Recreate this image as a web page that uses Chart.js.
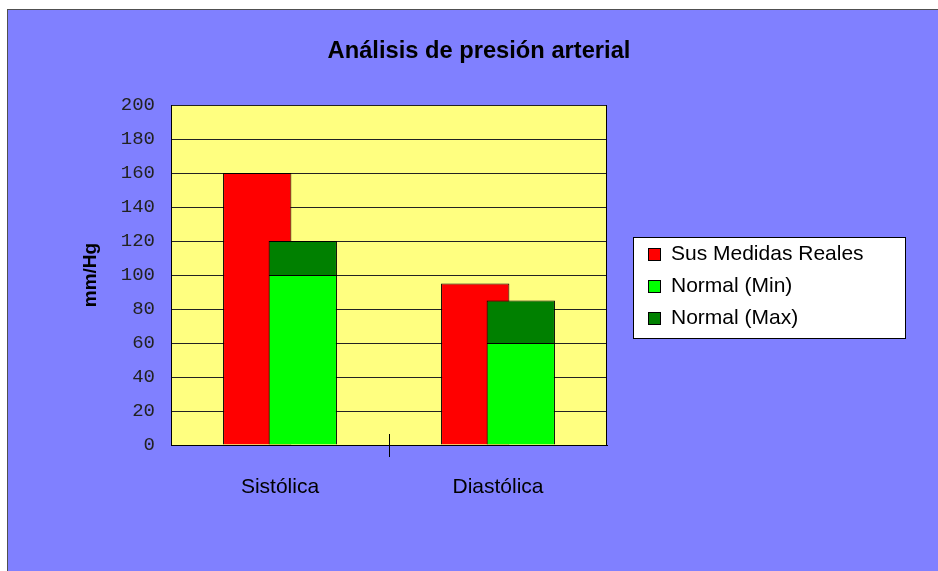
<!DOCTYPE html>
<html>
<head>
<meta charset="utf-8">
<title>Análisis de presión arterial</title>
<script src="https://cdn.jsdelivr.net/npm/chart.js@4"></script>
<style>
  html, body { margin: 0; padding: 0; background: #ffffff; overflow: hidden; }
  #frame {
    position: absolute; left: 7px; top: 9px;
    width: 940px; height: 570px;
    border-left: 1px solid #505050; border-top: 1px solid #505050;
    background: #8080ff;
  }
  canvas { display: block; }
</style>
</head>
<body>
<div id="frame"><canvas id="chart" width="930" height="561"></canvas></div>
<script>
// Blood pressure readings against the normal range (mm/Hg)
const categories = ['Sistólica', 'Diastólica'];
const seriesNames = ['Sus Medidas Reales', 'Normal (Min)', 'Normal (Max)'];
const measured = [160, 95];
const normalMin = [100, 60];
const normalMax = [120, 85];
const yMin = 0;
const yMax = 200;
const yStep = 20;

// the dark green block sits on top of the minimum, up to the maximum
const normalSpan = normalMax.map((v, i) => v - normalMin[i]);

const SANS = '"Liberation Sans", Arial, sans-serif';
const MONO = '"Liberation Mono", "Courier New", monospace';

// yellow plot area
const plotBackground = {
  id: 'plotBackground',
  beforeDraw(chart) {
    const { ctx, chartArea: a } = chart;
    ctx.save();
    ctx.fillStyle = '#ffff80';
    ctx.fillRect(a.left, a.top, a.right - a.left, a.bottom - a.top);
    ctx.restore();
  }
};

// measured bars sit behind the overlapping normal-range bars
const measuredBehind = {
  id: 'measuredBehind',
  beforeDatasetsDraw(chart) {
    const meta = chart.getDatasetMeta(0);
    if (chart.isDatasetVisible(0)) meta.controller.draw();
  },
  beforeDatasetDraw(chart, args) {
    if (args.index === 0) return false;
  }
};

// right edge of the plot and the category divider tick
const plotFrame = {
  id: 'plotFrame',
  afterDatasetsDraw(chart) {
    const { ctx, chartArea: a, scales: { x } } = chart;
    ctx.save();
    ctx.strokeStyle = '#000';
    ctx.lineWidth = 1;
    const rx = Math.round(a.right) - 0.5;
    ctx.beginPath();
    ctx.moveTo(rx, a.top);
    ctx.lineTo(rx, a.bottom);
    const mid = Math.round((x.getPixelForValue(0) + x.getPixelForValue(1)) / 2) + 0.5;
    ctx.moveTo(mid, a.bottom - 11);
    ctx.lineTo(mid, a.bottom + 12);
    ctx.stroke();
    ctx.restore();
  }
};

// boxed legend to the right of the plot
const boxLegend = {
  id: 'boxLegend',
  afterDraw(chart) {
    const { ctx, chartArea: a } = chart;
    const left = Math.round(a.right + 26);
    const top = Math.round((a.top + a.bottom) / 2 - 38);
    const width = 272, height = 101;
    ctx.save();
    ctx.fillStyle = '#ffffff';
    ctx.fillRect(left, top, width, height);
    ctx.strokeStyle = '#000';
    ctx.lineWidth = 1;
    ctx.strokeRect(left + 0.5, top + 0.5, width, height);
    ctx.font = '21px ' + SANS;
    ctx.textBaseline = 'middle';
    ctx.textAlign = 'left';
    chart.data.datasets.forEach((ds, i) => {
      const cy = top + 17 + i * 32;
      const sx = left + 15;
      ctx.fillStyle = ds.backgroundColor;
      ctx.fillRect(sx, Math.round(cy - 6.5), 13, 13);
      ctx.strokeStyle = '#000';
      ctx.strokeRect(sx + 0.5, Math.round(cy - 6.5) + 0.5, 12, 12);
      ctx.fillStyle = '#000';
      ctx.fillText(ds.label, sx + 13 + 10, cy);
    });
    ctx.restore();
  }
};

new Chart(document.getElementById('chart'), {
  type: 'bar',
  data: {
    labels: categories,
    datasets: [
      {
        label: seriesNames[0],
        data: measured,
        stack: 'measured',
        backgroundColor: '#ff0000'
      },
      {
        label: seriesNames[1],
        data: normalMin,
        stack: 'normal',
        backgroundColor: '#00ff00'
      },
      {
        label: seriesNames[2],
        data: normalSpan,
        stack: 'normal',
        backgroundColor: '#008000'
      }
    ]
  },
  options: {
    responsive: false,
    devicePixelRatio: 1,
    animation: false,
    events: [],
    layout: { padding: { left: 12, top: 0, right: 0, bottom: 0 } },
    datasets: {
      bar: {
        borderColor: '#000',
        borderWidth: 1,
        categoryPercentage: 0.418,
        barPercentage: 1.5
      }
    },
    scales: {
      x: {
        grid: { display: false, drawTicks: false },
        border: { display: true, color: '#000', width: 1 },
        ticks: {
          padding: 30,
          color: '#000',
          font: { family: SANS, size: 21 }
        },
        afterFit(scale) { scale.height = 126; }
      },
      y: {
        stacked: true,
        min: yMin,
        max: yMax,
        grid: { color: '#222', lineWidth: 1, drawTicks: false },
        border: { display: true, color: '#000', width: 1 },
        ticks: {
          stepSize: yStep,
          padding: 16,
          color: '#222',
          font: { family: MONO, size: 19 }
        },
        title: {
          display: true,
          text: 'mm/Hg',
          color: '#000',
          font: { family: SANS, size: 19, weight: 'bold' },
          padding: { top: 59, bottom: 0 }
        },
        afterFit(scale) { scale.width = 151; }
      },
      // room on the right side for the boxed legend
      legendSpace: {
        position: 'right',
        display: true,
        grid: { display: false, drawTicks: false },
        border: { display: false },
        ticks: { display: false },
        afterFit(scale) { scale.width = 331; }
      }
    },
    plugins: {
      legend: { display: false },
      tooltip: { enabled: false },
      title: {
        display: true,
        text: 'Análisis de presión arterial',
        color: '#000',
        font: { family: SANS, size: 23.7, weight: 'bold' },
        padding: { top: 27, bottom: 39.6 }
      }
    }
  },
  plugins: [plotBackground, measuredBehind, plotFrame, boxLegend]
});
</script>
</body>
</html>
